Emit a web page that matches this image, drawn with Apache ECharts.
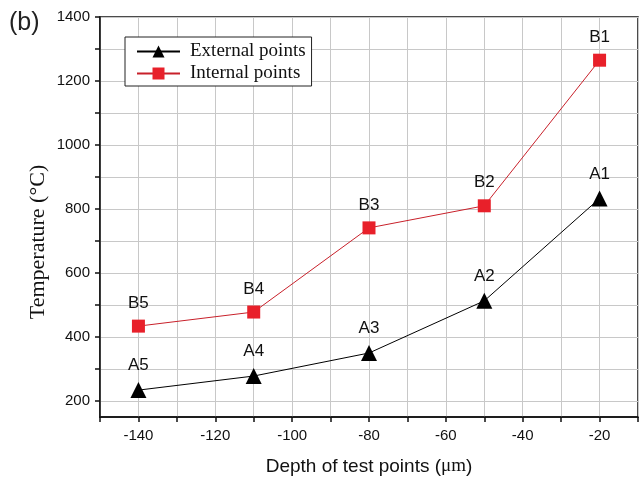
<!DOCTYPE html>
<html><head><meta charset="utf-8">
<script src="https://cdn.jsdelivr.net/npm/echarts@6/dist/echarts.min.js"></script>
<style>html,body{margin:0;padding:0;background:#fff}#c{width:641px;height:481px}</style>
</head><body><div id="c"></div>
<script>
const depths = [-140, -110, -80, -50, -20];
const externalTemps = [234, 278, 350, 513, 833];
const internalTemps = [434, 478, 741, 810, 1265];
const externalLabels = ['A5', 'A4', 'A3', 'A2', 'A1'];
const internalLabels = ['B5', 'B4', 'B3', 'B2', 'B1'];
const yLabelValues = [200, 400, 600, 800, 1000, 1200, 1400];
const yTickValues = [200, 300, 400, 500, 600, 700, 800, 900, 1000, 1100, 1200, 1300, 1400];
const xLabelValues = [-140, -120, -100, -80, -60, -40, -20];

const chart = echarts.init(document.getElementById('c'));
const lbl = (names) => ({
  show: true, position: 'top', distance: 8,
  formatter: p => names[p.dataIndex],
  fontFamily: 'Liberation Sans, Arial', fontSize: 17, color: '#111'
});
chart.setOption({
  animation: false,
  graphic: [
    {type: 'text', left: 9, top: 11, style: {text: '(b)', font: '25px Liberation Sans, Arial', fill: '#222'}},
    {type: 'text', x: 38, y: 242, rotation: Math.PI / 2,
     style: {text: 'Temperature (°C)', font: '22px Liberation Serif, Times New Roman', fill: '#111', align: 'center', verticalAlign: 'middle'}}
  ],
  grid: {left: 100, right: 3, top: 17, bottom: 63, show: true, borderColor: '#111', borderWidth: 1.5, backgroundColor: 'transparent'},
  legend: {
    left: 125, top: 37, orient: 'vertical', itemGap: 3, itemWidth: 43, itemHeight: 15,
    borderColor: '#222', borderWidth: 1, padding: [5, 6, 3, 11], backgroundColor: '#fff',
    textStyle: {fontFamily: 'Liberation Serif, Times New Roman', fontSize: 19, color: '#111', padding: [0, 0, 0, 5]}
  },
  xAxis: {
    type: 'value', min: -150, max: -10, interval: 10,
    axisLine: {lineStyle: {color: '#111', width: 1.5}},
    axisTick: {show: true, length: 5, lineStyle: {color: '#111', width: 1.5}},
    axisLabel: {formatter: v => ((v + 140) % 20 === 0 && v >= -140 && v <= -20) ? String(v) : '', fontFamily: 'Liberation Sans, Arial', fontSize: 15, color: '#111', margin: 11},
    splitLine: {show: true, lineStyle: {color: '#c8c8c8', width: 1}},
    name: 'Depth of test points ({s|μm})', nameLocation: 'middle', nameGap: 40,
    nameTextStyle: {fontFamily: 'Liberation Sans, Arial', fontSize: 19, color: '#111', rich: {s: {fontFamily: 'Liberation Serif', fontSize: 19, color: '#111'}}}
  },
  yAxis: {
    type: 'value', min: 150, max: 1400,
    axisLine: {show: true, lineStyle: {color: '#111', width: 1.5}},
    axisTick: {show: true, length: 5, customValues: yTickValues, lineStyle: {color: '#111', width: 1.5}},
    axisLabel: {customValues: yLabelValues, formatter: v => String(v), fontFamily: 'Liberation Sans, Arial', fontSize: 15, color: '#111', margin: 10},
    splitLine: {show: true, lineStyle: {color: '#c8c8c8', width: 1}}
  },
  series: [
    {name: 'External points', type: 'line', data: depths.map((d, i) => [d, externalTemps[i]]),
     symbol: 'triangle', symbolSize: 16, itemStyle: {color: '#000'}, lineStyle: {color: '#000', width: 1},
     label: lbl(externalLabels)},
    {name: 'Internal points', type: 'line', data: depths.map((d, i) => [d, internalTemps[i]]),
     symbol: 'rect', symbolSize: 13, itemStyle: {color: '#e8202a'}, lineStyle: {color: '#c8202a', width: 1},
     label: lbl(internalLabels)}
  ]
});
</script></body></html>
